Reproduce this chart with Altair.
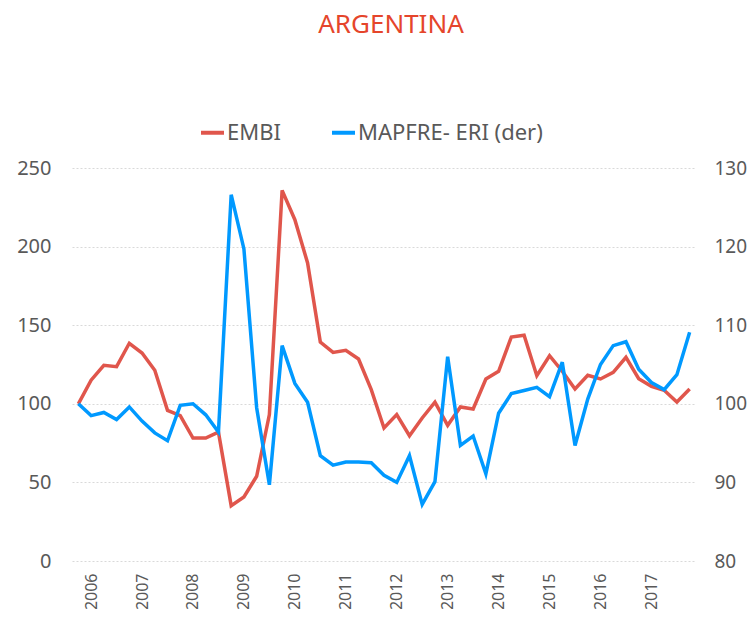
import altair as alt
import pandas as pd

# ---- data ----
quarters = ["2005-Q4"] + [f"{y}-Q{q}" for y in range(2006, 2018) for q in range(1, 5)]
embi = [100, 115, 124.5, 123.6, 138.5, 132.3, 121.3, 95.8, 92.5, 78.2, 78.2, 82,
        35.2, 40.7, 53.9, 93.1, 235.8, 217.1, 189.6, 139.3, 132.7, 134, 128.5, 109,
        84.6, 93.1, 79.7, 91, 101.1, 86.3, 98, 96.7, 115.8, 120.7, 142.5, 143.6,
        117.9, 130.6, 120.7, 109.4, 118.1, 115.8, 120, 129.6, 116, 111.1, 108.6,
        101.1, 109.4]
mapfre = [100, 98.5, 98.9, 98.0, 99.6, 97.8, 96.3, 95.3, 99.8, 100, 98.6, 96.4,
          126.6, 119.7, 99.5, 89.7, 107.4, 102.6, 100.2, 93.4, 92.2, 92.6, 92.6, 92.5,
          90.9, 90.0, 93.4, 87.2, 90.1, 106.0, 94.7, 95.9, 91.1, 98.8, 101.3, 101.7,
          102.1, 100.9, 105.3, 94.7, 100.6, 105.0, 107.4, 107.9, 104.4, 102.7, 101.8,
          103.7, 109.1]
years = [str(y) for y in range(2006, 2018)]
left_ticks = [0, 50, 100, 150, 200, 250]
right_ticks = [80, 90, 100, 110, 120, 130]
series_names = ["EMBI", "MAPFRE- ERI (der)"]
series_colors = ["#E0564C", "#0099FF"]

df = pd.DataFrame({
    "quarter": quarters * 2,
    "series": [series_names[0]] * len(quarters) + [series_names[1]] * len(quarters),
    "value": embi + mapfre,
})

FONT = "Noto Sans"
GRAY = "#595959"

x = alt.X(
    "quarter:O", sort=None,
    scale=alt.Scale(type="point", padding=0.5),
    axis=alt.Axis(values=[f"{y}-Q1" for y in years],
                  labelExpr="slice(datum.value, 0, 4)",
                  labelAngle=-90, labelFontSize=16, labelColor=GRAY, labelFont=FONT,
                  labelPadding=12, ticks=False, domain=False, grid=False, title=None),
)

color = alt.Color(
    "series:N",
    scale=alt.Scale(domain=series_names, range=series_colors),
    legend=alt.Legend(orient="none", legendX=127, legendY=-49, direction="horizontal",
                      title=None, symbolType="stroke", symbolStrokeWidth=4,
                      symbolSize=529, labelFontSize=22, labelColor=GRAY, labelFont=FONT,
                      labelOffset=1, labelLimit=0, columnPadding=43, padding=0),
)

base = alt.Chart(df)

left = base.transform_filter(alt.datum.series == series_names[0]).mark_line(strokeWidth=3.5).encode(
    x=x,
    y=alt.Y("value:Q", scale=alt.Scale(domain=[0, 250]),
            axis=alt.Axis(values=left_ticks, orient="left", labelFontSize=20, labelColor=GRAY,
                          labelFont=FONT, labelPadding=21, ticks=False, domain=False,
                          grid=True, gridColor="#D9D9D9", gridDash=[2, 2], title=None)),
    color=color,
)

right = base.transform_filter(alt.datum.series == series_names[1]).mark_line(strokeWidth=3.5).encode(
    x=x,
    y=alt.Y("value:Q", scale=alt.Scale(domain=[80, 130]),
            axis=alt.Axis(values=right_ticks, orient="right", labelFontSize=19, labelColor=GRAY,
                          labelFont=FONT, labelPadding=18, ticks=False, domain=False,
                          grid=False, title=None)),
    color=color,
)

chart = alt.layer(left, right).resolve_scale(y="independent").properties(
    width=624, height=393,
    padding={"left": 64, "top": 160, "right": 52, "bottom": 48},
    autosize=alt.AutoSizeParams(type="none"),
    title=alt.TitleParams("ARGENTINA", color="#E5452B", fontSize=26, font=FONT,
                          fontWeight="normal", anchor="middle", frame="group",
                          offset=81, dx=7),
).configure_view(stroke=None)

chart.save("out.html", embed_options={"renderer": "svg", "actions": False})
